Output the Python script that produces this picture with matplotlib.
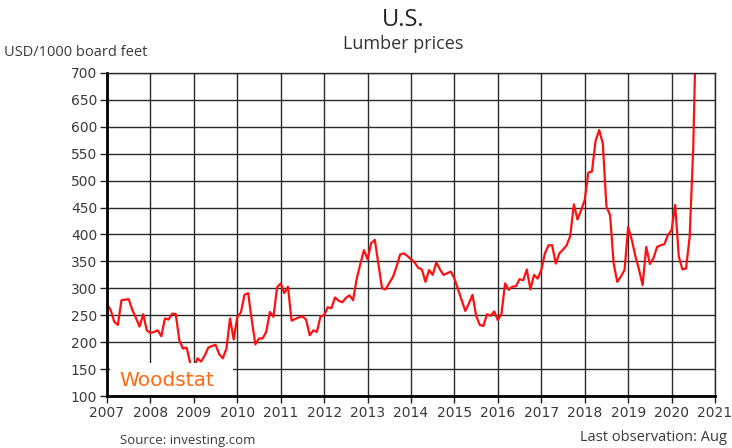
import numpy as np
import matplotlib
matplotlib.use("Agg")
import matplotlib.pyplot as plt
from matplotlib.patches import Rectangle

# monthly lumber price, USD/1000 board feet, Jan 2007 - Aug 2020
p2007 = [271, 260, 238, 232, 278, 279, 280, 260, 245, 229, 252, 222]
p2008 = [217, 219, 222, 211, 244, 242, 253, 252, 203, 188, 190, 161]
p2009 = [150, 170, 164, 175, 190, 193, 195, 178, 170, 188, 244, 205]
p2010 = [247, 255, 288, 291, 241, 196, 207, 207, 219, 256, 247, 302]
p2011 = [309, 291, 303, 240, 243, 246, 248, 242, 213, 222, 219, 248]
p2012 = [250, 265, 263, 283, 277, 274, 282, 287, 278, 318, 345, 371]
p2013 = [354, 384, 390, 345, 300, 298, 310, 321, 340, 363, 365, 360]
p2014 = [354, 348, 338, 335, 312, 334, 325, 348, 335, 325, 328, 331]
p2015 = [318, 298, 278, 258, 272, 288, 249, 232, 230, 252, 249, 257]
p2016 = [241, 253, 309, 297, 303, 304, 317, 315, 335, 298, 325, 318]
p2017 = [334, 365, 380, 380, 346, 365, 372, 380, 397, 456, 428, 445]
p2018 = [464, 515, 517, 574, 594, 569, 452, 436, 346, 312, 322, 334]
p2019 = [414, 390, 360, 335, 306, 377, 345, 356, 377, 380, 382, 399]
p2020 = [408, 455, 359, 335, 337, 396, 563, 860]

prices = p2007 + p2008 + p2009 + p2010 + p2011 + p2012 + p2013 + \
    p2014 + p2015 + p2016 + p2017 + p2018 + p2019 + p2020
dates = 2007 + np.arange(len(prices)) / 12.0

years = list(range(2007, 2022))
yticks = list(range(100, 701, 50))

txt = '#3a3a3a'

fig = plt.figure(figsize=(7.32, 4.48), dpi=100)
ax = fig.add_axes([107/732, 1 - 396/448, 608/732, 323/448])

ax.plot(dates, prices, color='#ff1010', lw=1.6, zorder=2)

ax.set_xlim(2007, 2021)
ax.set_ylim(100, 700)
ax.set_xticks(years)
ax.set_yticks(yticks)
ax.grid(True, color='#2a2a2a', lw=1.0, zorder=1)
ax.set_axisbelow(True)
ax.tick_params(axis='both', direction='out', length=5, width=1.0,
               color='#222222', labelcolor=txt, labelsize=10, pad=2)
for s in ['top', 'right']:
    ax.spines[s].set_color('#2a2a2a')
    ax.spines[s].set_linewidth(1.0)
for s in ['left', 'bottom']:
    ax.spines[s].set_color('black')
    ax.spines[s].set_linewidth(2.0)

# Woodstat logo box
ax.add_patch(Rectangle((3/608, 1/323), 123/608, 32/323, transform=ax.transAxes,
                       facecolor='white', edgecolor='none', zorder=3))
ax.text(12/608, 16/323, 'Woodstat', transform=ax.transAxes, color='#ff6a10',
        fontsize=14.5, fontfamily='DejaVu Sans', va='center', ha='left', zorder=4)

fig.text(403/732, 1 - 20/448, 'U.S.', ha='center', va='center', fontsize=17,
         color='#222222', fontfamily='Open Sans')
fig.text(403/732, 1 - 44/448, 'Lumber prices', ha='center', va='center',
         fontsize=13, color='#333333', fontfamily='Open Sans')
fig.text(4/732, 1 - 53/448, 'USD/1000 board feet', ha='left', va='center',
         fontsize=10.5, color=txt, fontfamily='Open Sans')
fig.text(120/732, 1 - 440/448, 'Source: investing.com', ha='left', va='center',
         fontsize=9.5, color=txt, fontfamily='Open Sans')
fig.text(727/732, 1 - 437/448, 'Last observation: Aug', ha='right', va='center',
         fontsize=10.5, color=txt, fontfamily='Open Sans')

plt.savefig('out.png', dpi=100)
